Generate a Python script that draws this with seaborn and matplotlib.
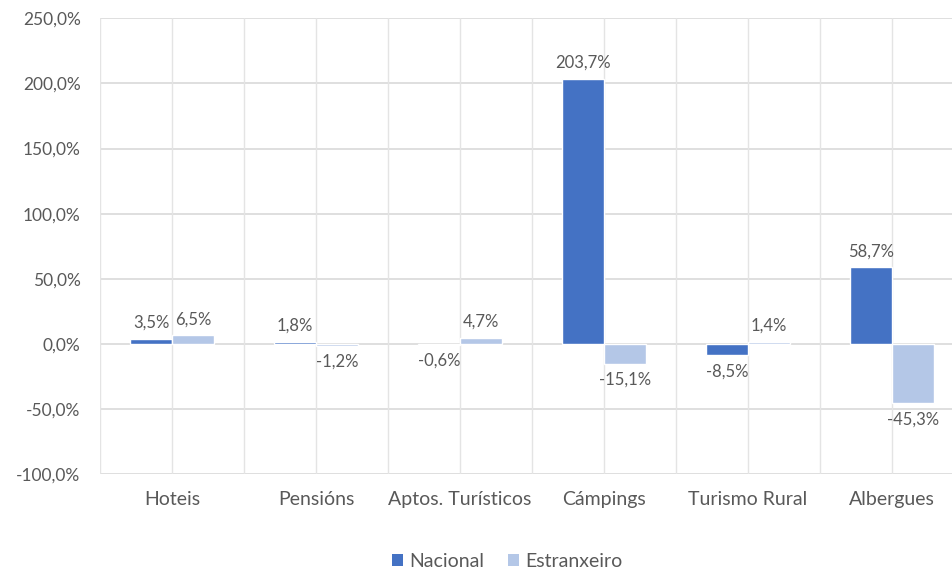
import matplotlib
matplotlib.use("Agg")
import matplotlib.pyplot as plt
import seaborn as sns
import pandas as pd
from matplotlib.patches import Patch

categories = ["Hoteis", "Pensións", "Aptos. Turísticos", "Cámpings", "Turismo Rural", "Albergues"]
nacional = [3.5, 1.8, -0.6, 203.7, -8.5, 58.7]
estranxeiro = [6.5, -1.2, 4.7, -15.1, 1.4, -45.3]
series = ["Nacional", "Estranxeiro"]
colors = ["#4472C4", "#B4C7E7"]
yticks = [-100, -50, 0, 50, 100, 150, 200, 250]

df = pd.DataFrame({
    "cat": categories * 2,
    "serie": [series[0]] * len(categories) + [series[1]] * len(categories),
    "val": nacional + estranxeiro,
})

sns.set_theme(style="white")
plt.rcParams["font.family"] = ["Lato", "DejaVu Sans"]
txt = "#595959"

fig = plt.figure(figsize=(9.53, 5.70), dpi=100)
ax = fig.add_axes([0.105, 0.168, 0.9066, 0.8])

sns.barplot(data=df, x="cat", y="val", hue="serie", order=categories, hue_order=series,
            palette=colors, width=0.58, ax=ax, legend=False, saturation=1, zorder=3)

ax.set_xlim(-0.5, len(categories) - 0.5)
ax.set_ylim(-100, 250)
ax.set_yticks(yticks)
ax.set_yticklabels([f"{v:.1f}%".replace(".", ",") for v in yticks], color=txt, fontsize=12.5)
ax.set_xticks(range(len(categories)))
ax.set_xticklabels(categories, color=txt, fontsize=14)
ax.tick_params(axis="both", length=0)
ax.tick_params(axis="x", pad=12)
ax.tick_params(axis="y", pad=14)
ax.set_xlabel("")
ax.set_ylabel("")

for s in ax.spines.values():
    s.set_visible(False)

for y in yticks:
    ax.axhline(y, color="#D9D9D9", lw=1.2, zorder=1)
for x in [i * 0.5 - 0.5 for i in range(2 * len(categories) + 1)]:
    ax.axvline(x, color="#E4E4E4", lw=1.0, zorder=1)

for cont, vals in zip(ax.containers, [nacional, estranxeiro]):
    labels = [f"{v:.1f}%".replace(".", ",") for v in vals]
    ax.bar_label(cont, labels=labels, padding=6, fontsize=12, color=txt)

handles = [Patch(facecolor=c, edgecolor="none") for c in colors]
fig.legend(handles, series, loc="lower center", bbox_to_anchor=(0.532, -0.03), ncol=2,
           frameon=False, fontsize=14, handlelength=0.6, handleheight=0.6,
           handletextpad=0.3, columnspacing=1.2, labelcolor=txt)

fig.savefig("out.png", dpi=100)
